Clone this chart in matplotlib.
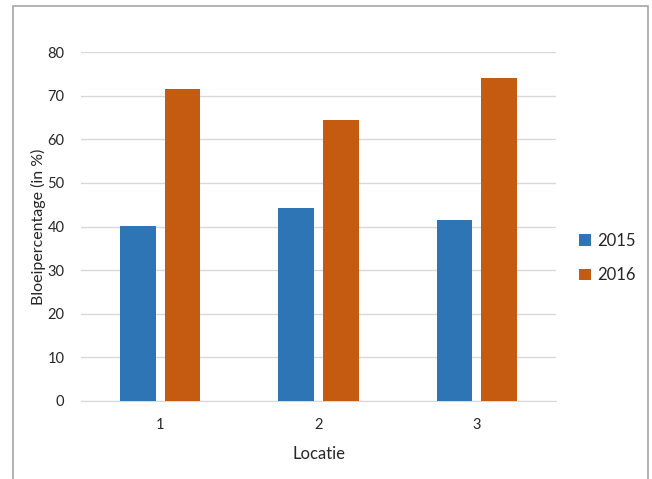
import matplotlib.pyplot as plt
import matplotlib.patches as patches
import numpy as np

locaties = ['1', '2', '3']
jaar_2015 = [40.1, 44.3, 41.5]
jaar_2016 = [71.5, 64.4, 74.0]

plt.rcParams['font.family'] = ['Lato', 'DejaVu Sans']

fig = plt.figure(figsize=(6.52, 4.79), dpi=100)
ax = fig.add_axes([81 / 652, 1 - 401 / 479, 475 / 652, 349 / 479])

x = np.arange(len(locaties))
w = 0.224
ax.bar(x - 0.141, jaar_2015, w, color='#2E75B6', label='2015', zorder=3)
ax.bar(x + 0.141, jaar_2016, w, color='#C55A11', label='2016', zorder=3)

ax.set_xlim(-0.5, 2.5)
ax.set_ylim(0, 80)
ax.set_yticks(range(0, 81, 10))
ax.set_xticks(x)
ax.set_xticklabels(locaties)
ax.grid(axis='y', color='#D9D9D9', linewidth=1, zorder=0)
for s in ['top', 'right', 'left']:
    ax.spines[s].set_visible(False)
ax.spines['bottom'].set_color('#D9D9D9')
ax.tick_params(length=0, labelsize=10.5, colors='#262626')
ax.tick_params(axis='y', pad=12)
ax.tick_params(axis='x', pad=12)
ax.set_xlabel('Locatie', fontsize=12, color='#262626', labelpad=10)
ax.set_ylabel('Bloeipercentage (in %)', fontsize=11.5, color='#262626', labelpad=1)

ax.legend(loc='center left', bbox_to_anchor=(564 / 652, 1 - 258 / 479),
          bbox_transform=fig.transFigure, frameon=False,
          fontsize=12, handlelength=0.7, handleheight=0.7, labelspacing=1.1,
          handletextpad=0.4, labelcolor='#262626')

fig.patches.append(patches.Rectangle((13 / 652, -0.05), 635 / 652, 1 - 6 / 479 + 0.05,
                                     transform=fig.transFigure, fill=False,
                                     edgecolor='#A6A6A6', linewidth=1.2))

fig.savefig('out.png', dpi=100)
